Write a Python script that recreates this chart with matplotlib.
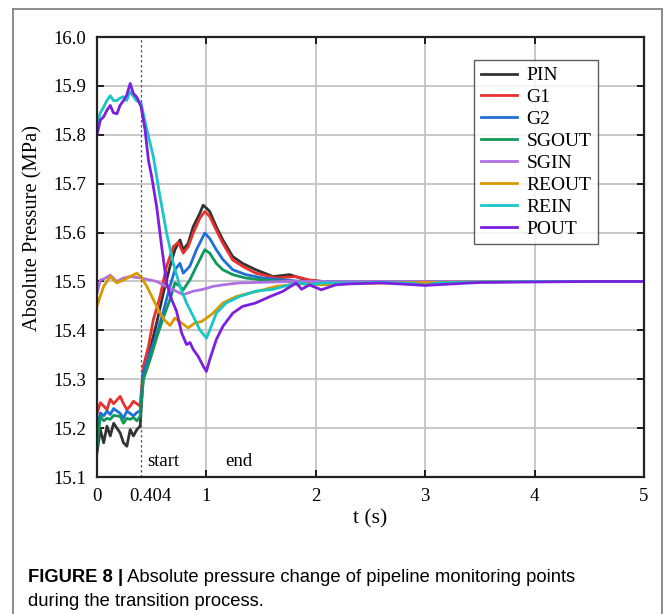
import matplotlib
matplotlib.use("Agg")
import matplotlib.pyplot as plt
from matplotlib.lines import Line2D
from matplotlib.transforms import ScaledTranslation

# Series (time in s, absolute pressure in MPa)
T_EARLY = [0, 0.03, 0.061, 0.091, 0.121, 0.152, 0.212, 0.242, 0.273, 0.303, 0.333, 0.364, 0.394]

pin_t = T_EARLY + [0.424, 0.455, 0.485, 0.545, 0.606, 0.667, 0.712, 0.758, 0.788, 0.833, 0.879,
                   0.939, 0.970, 1.0, 1.03, 1.09, 1.15, 1.24, 1.33, 1.45, 1.61, 1.76, 1.91, 2.06,
                   2.5, 3.0, 4.0, 5.0]
pin_v = [15.15, 15.197, 15.17, 15.204, 15.184, 15.21, 15.19, 15.17, 15.163, 15.197, 15.184, 15.197,
         15.204, 15.313, 15.333, 15.361, 15.415, 15.476, 15.531, 15.565, 15.585, 15.565, 15.578,
         15.612, 15.639, 15.656, 15.65, 15.643, 15.612, 15.585, 15.551, 15.537, 15.524, 15.51,
         15.514, 15.503, 15.5, 15.5, 15.499, 15.5, 15.5]

g1_t = T_EARLY + [0.424, 0.47, 0.515, 0.576, 0.636, 0.697, 0.742, 0.788, 0.833, 0.879, 0.939,
                  0.985, 1.03, 1.09, 1.15, 1.24, 1.33, 1.45, 1.64, 1.82, 1.94, 2.06, 3.0, 5.0]
g1_v = [15.23, 15.252, 15.245, 15.238, 15.259, 15.25, 15.265, 15.25, 15.238, 15.245, 15.255,
        15.25, 15.245, 15.327, 15.367, 15.422, 15.469, 15.531, 15.571, 15.58, 15.558, 15.571,
        15.599, 15.629, 15.643, 15.633, 15.605, 15.578, 15.544, 15.531, 15.517, 15.507, 15.51,
        15.503, 15.5, 15.5, 15.5]

g2_t = T_EARLY + [0.424, 0.485, 0.545, 0.606, 0.667, 0.712, 0.758, 0.788, 0.848, 0.909, 0.985,
                  1.03, 1.09, 1.15, 1.24, 1.36, 1.52, 1.70, 1.88, 3.0, 5.0]
g2_v = [15.20, 15.231, 15.225, 15.235, 15.228, 15.24, 15.23, 15.22, 15.235, 15.23, 15.225,
        15.232, 15.235, 15.313, 15.354, 15.392, 15.439, 15.49, 15.524, 15.537, 15.517, 15.531,
        15.565, 15.599, 15.588, 15.565, 15.545, 15.524, 15.514, 15.507, 15.503, 15.5, 15.5, 15.5]

sgout_t = T_EARLY + [0.424, 0.485, 0.545, 0.606, 0.667, 0.712, 0.758, 0.788, 0.848, 0.909, 0.985,
                     1.03, 1.09, 1.15, 1.24, 1.36, 1.52, 1.70, 3.0, 5.0]
sgout_v = [15.16, 15.224, 15.215, 15.22, 15.218, 15.226, 15.224, 15.21, 15.22, 15.218, 15.222,
           15.215, 15.224, 15.30, 15.34, 15.385, 15.426, 15.463, 15.497, 15.49, 15.483, 15.503,
           15.531, 15.565, 15.558, 15.537, 15.524, 15.514, 15.507, 15.503, 15.5, 15.5, 15.5]

sgin_t = [0, 0.03, 0.061, 0.121, 0.18, 0.242, 0.30, 0.403, 0.545, 0.697, 0.788, 0.879, 0.97,
          1.06, 1.15, 1.30, 1.45, 1.76, 2.2, 3.0, 4.0, 5.0]
sgin_v = [15.476, 15.503, 15.505, 15.513, 15.50, 15.507, 15.51, 15.507, 15.5, 15.483, 15.473,
          15.48, 15.484, 15.49, 15.493, 15.497, 15.498, 15.5, 15.5, 15.5, 15.5, 15.5]

reout_t = [0, 0.03, 0.061, 0.09, 0.121, 0.18, 0.242, 0.303, 0.364, 0.409, 0.455, 0.515, 0.576,
           0.621, 0.667, 0.712, 0.773, 0.833, 0.894, 0.955, 1.0, 1.06, 1.15, 1.27, 1.39, 1.52,
           1.64, 1.76, 1.88, 2.06, 2.3, 3.0, 4.0, 5.0]
reout_v = [15.45, 15.47, 15.49, 15.5, 15.51, 15.497, 15.503, 15.51, 15.517, 15.507, 15.49,
           15.463, 15.435, 15.42, 15.41, 15.425, 15.415, 15.405, 15.415, 15.418, 15.425, 15.435,
           15.456, 15.469, 15.476, 15.483, 15.49, 15.493, 15.495, 15.493, 15.496, 15.498, 15.5,
           15.5]

rein_t = [0, 0.03, 0.061, 0.09, 0.121, 0.15, 0.182, 0.21, 0.242, 0.27, 0.303, 0.36, 0.403,
          0.45, 0.515, 0.576, 0.636, 0.697, 0.758, 0.818, 0.879, 0.939, 1.0, 1.03, 1.09, 1.18,
          1.30, 1.45, 1.61, 1.76, 1.85, 1.94, 2.06, 2.3, 2.6, 2.9, 3.0, 3.1, 3.5, 4.0, 4.5, 5.0]
rein_v = [15.82, 15.845, 15.857, 15.87, 15.88, 15.87, 15.87, 15.875, 15.878, 15.87, 15.888,
          15.87, 15.864, 15.816, 15.755, 15.673, 15.599, 15.537, 15.49, 15.456, 15.429, 15.401,
          15.384, 15.40, 15.435, 15.456, 15.469, 15.48, 15.484, 15.493, 15.497, 15.493, 15.497,
          15.497, 15.498, 15.496, 15.492, 15.497, 15.499, 15.5, 15.5, 15.5]

pout_t = [0, 0.03, 0.061, 0.09, 0.121, 0.15, 0.182, 0.21, 0.242, 0.27, 0.303, 0.333, 0.36,
          0.379, 0.403, 0.439, 0.47, 0.5, 0.545, 0.591, 0.636, 0.682, 0.727, 0.773, 0.818, 0.85,
          0.879, 0.924, 0.97, 1.0, 1.03, 1.09, 1.15, 1.24, 1.33, 1.45, 1.58, 1.70, 1.82, 1.87,
          1.94, 2.05, 2.18, 2.30, 2.6, 3.0, 3.5, 4.0, 4.5, 5.0]
pout_v = [15.80, 15.83, 15.837, 15.85, 15.86, 15.845, 15.843, 15.86, 15.87, 15.88, 15.905,
          15.884, 15.878, 15.87, 15.857, 15.81, 15.748, 15.714, 15.653, 15.571, 15.497, 15.463,
          15.439, 15.395, 15.371, 15.375, 15.361, 15.347, 15.327, 15.316, 15.34, 15.381, 15.408,
          15.435, 15.449, 15.456, 15.469, 15.48, 15.497, 15.484, 15.493, 15.483, 15.493, 15.495,
          15.497, 15.492, 15.498, 15.499, 15.5, 15.5]

labels = ["PIN", "G1", "G2", "SGOUT", "SGIN", "REOUT", "REIN", "POUT"]
colors = ["#333333", "#e8312f", "#1f6fd6", "#10975a", "#b070e0", "#d89a00", "#19c6c6", "#7b1fe0"]
series = [(pin_t, pin_v), (g1_t, g1_v), (g2_t, g2_v), (sgout_t, sgout_v), (sgin_t, sgin_v),
          (reout_t, reout_v), (rein_t, rein_v), (pout_t, pout_v)]

y_ticks = [15.1, 15.2, 15.3, 15.4, 15.5, 15.6, 15.7, 15.8, 15.9, 16.0]
x_ticks = [0, 1, 2, 3, 4, 5]
t_start = 0.404

plt.rcParams["font.family"] = ["Liberation Serif", "DejaVu Serif"]

fig = plt.figure(figsize=(6.65, 6.14), dpi=100)
ax = fig.add_axes([0.1459, 0.2231, 0.8226, 0.7166])

for (t, v), lab, c in zip(series, labels, colors):
    ax.plot(t, v, color=c, lw=2.0, label=lab)

ax.axvline(t_start, color="#555555", lw=0.9, ls=(0, (2, 2)))

ax.set_xlim(0, 5)
ax.set_ylim(15.1, 16.0)
ax.set_xticks(x_ticks)
ax.set_xticks([t_start], minor=True)
ax.set_xticklabels([str(x) for x in x_ticks])
ax.set_xticklabels(["0.404"], minor=True)
ax.set_yticks(y_ticks)
ax.set_yticklabels([f"{y:.1f}" for y in y_ticks])
ax.grid(True, which="major", color="#c4c4c4", lw=1.3)
ax.tick_params(which="major", direction="in", length=5, width=1.2, labelsize=13.5,
               top=True, right=True, pad=8)
ax.tick_params(which="minor", length=0, labelsize=13.5, pad=8)
for lbl in ax.get_xticklabels(minor=True):
    lbl.set_transform(lbl.get_transform() + ScaledTranslation(0.09, 0, fig.dpi_scale_trans))
for sp in ax.spines.values():
    sp.set_linewidth(1.6)
    sp.set_color("#222222")

ax.set_xlabel("t (s)", fontsize=15.5, labelpad=3)
ax.set_ylabel("Absolute Pressure (MPa)", fontsize=14.8)
ax.yaxis.set_label_coords(-0.1, 0.566)

ax.text(0.46, 15.131, "start", fontsize=13.5, va="center", ha="left")
ax.text(1.17, 15.131, "end", fontsize=13.5, va="center", ha="left")

leg = ax.legend(loc="upper right", bbox_to_anchor=(0.916, 0.948), borderaxespad=0,
                fancybox=False, edgecolor="#333333", fontsize=14, handlelength=1.85,
                labelspacing=0.22, borderpad=0.35, handletextpad=0.5)
leg.get_frame().set_linewidth(1.0)

# outer frame of the figure panel
for xs, ys in [([13 / 665, 13 / 665], [0, 1 - 9 / 614]),
               ([13 / 665, 662 / 665], [1 - 9 / 614, 1 - 9 / 614]),
               ([662 / 665, 662 / 665], [0, 1 - 9 / 614])]:
    fig.add_artist(Line2D(xs, ys, color="#8c8c8c", lw=1.4, transform=fig.transFigure))

cap = fig.text(28 / 665, 1 - 578 / 614, "FIGURE 8 |", fontsize=13.2, weight="bold",
               family="Liberation Sans", va="center")
ax.annotate(" Absolute pressure change of pipeline monitoring points", xy=(1, 0.5),
            xycoords=cap, va="center", fontsize=13.2, family="Liberation Sans",
            annotation_clip=False)
fig.text(28 / 665, 1 - 601 / 614, "during the transition process.", fontsize=13.2,
         family="Liberation Sans", va="center")

fig.savefig("out.png", dpi=100)
